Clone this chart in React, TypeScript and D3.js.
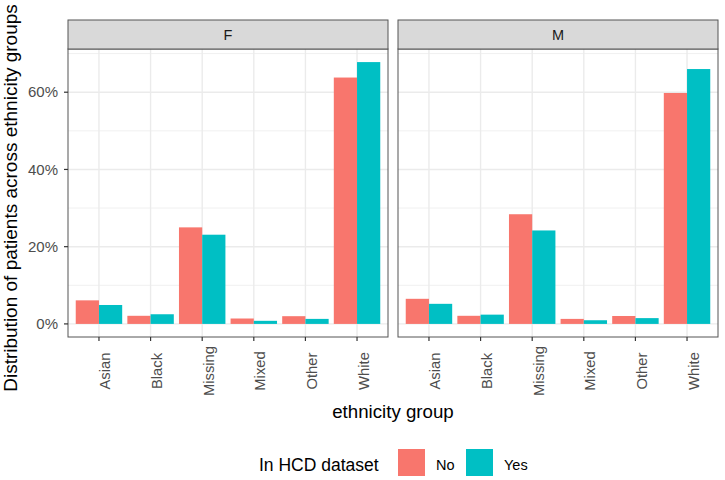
import React from "react";
import * as d3 from "d3";

const categories = ["Asian", "Black", "Missing", "Mixed", "Other", "White"];
const panels = ["F", "M"];
const groups = ["No", "Yes"];
const fNo = [6.1, 2.1, 25.0, 1.4, 2.0, 63.8];
const fYes = [4.9, 2.5, 23.1, 0.8, 1.3, 67.8];
const mNo = [6.5, 2.1, 28.4, 1.3, 2.05, 59.8];
const mYes = [5.2, 2.4, 24.2, 0.95, 1.5, 66.0];
const yTicks = [0, 20, 40, 60];
const yMinor = [10, 30, 50, 70];
const colors = ["#F8766D", "#00BFC4"];

const values: Record<string, number[][]> = { F: [fNo, fYes], M: [mNo, mYes] };

const W = 725, H = 480;
const FONT = "'Liberation Sans', Arial, Helvetica, sans-serif";
const panelTop = 49, panelBottom = 337, stripTop = 20;
const panelX = [68, 398];
const panelW = 320;

export default function App() {
  const maxV = d3.max([...fNo, ...fYes, ...mNo, ...mYes]) as number;
  const y = d3.scaleLinear().domain([-0.05 * maxV, maxV * 1.05]).range([panelBottom, panelTop]);
  // discrete positions like ggplot: expansion 0.6 units each side
  const xPos = d3.scaleLinear().domain([0.4, categories.length + 0.6]).range([0, panelW]);
  const barW = xPos(1.45) - xPos(1);
  return (
    <svg width={W} height={H} style={{ position: "absolute", left: 0, top: 0, background: "#fff" }}>
      <rect width={W} height={H} fill="#fff" />
      {panels.map((p, pi) => {
        const px = panelX[pi];
        return (
          <g key={p} transform={`translate(${px},0)`}>
            <rect x={0} y={panelTop} width={panelW} height={panelBottom - panelTop} fill="#fff" />
            {yMinor.map((t) => (
              <line key={"mn" + t} x1={0} x2={panelW} y1={y(t)} y2={y(t)} stroke="#F0F0F0" strokeWidth={1} />
            ))}
            {yTicks.map((t) => (
              <line key={"mj" + t} x1={0} x2={panelW} y1={y(t)} y2={y(t)} stroke="#EBEBEB" strokeWidth={1.4} />
            ))}
            {categories.map((c, i) => (
              <line key={"v" + c} x1={xPos(i + 1)} x2={xPos(i + 1)} y1={panelTop} y2={panelBottom} stroke="#EBEBEB" strokeWidth={1.4} />
            ))}
            {groups.map((g, gi) =>
              categories.map((c, i) => {
                const v = values[p][gi][i];
                const bx = xPos(i + 1) - barW + gi * barW;
                return (
                  <rect key={g + c} x={bx} y={y(v)} width={barW} height={y(0) - y(v)} fill={colors[gi]} />
                );
              })
            )}
            <rect x={0} y={panelTop} width={panelW} height={panelBottom - panelTop} fill="none" stroke="#555" strokeWidth={1} />
            <rect x={0} y={stripTop} width={panelW} height={panelTop - stripTop} fill="#D9D9D9" stroke="#555" strokeWidth={1} />
            <text x={panelW / 2} y={(stripTop + panelTop) / 2} dy="0.36em" textAnchor="middle" fontFamily={FONT} fontSize={14.5} fill="#1A1A1A">{p}</text>
            {categories.map((c, i) => (
              <g key={"t" + c}>
                <line x1={xPos(i + 1)} x2={xPos(i + 1)} y1={panelBottom} y2={panelBottom + 4} stroke="#333" strokeWidth={1.2} />
                <text transform={`translate(${xPos(i + 1)},371) rotate(-90)`} dy={11.5} textAnchor="middle" fontFamily={FONT} fontSize={14.8} fill="#4D4D4D">{c}</text>
              </g>
            ))}
          </g>
        );
      })}
      {yTicks.map((t) => (
        <g key={"yt" + t}>
          <line x1={panelX[0] - 4} x2={panelX[0]} y1={y(t)} y2={y(t)} stroke="#333" strokeWidth={1.2} />
          <text x={58} y={y(t)} dy="0.35em" textAnchor="end" fontFamily={FONT} fontSize={15} fill="#4D4D4D">{t + "%"}</text>
        </g>
      ))}
      <text transform={`translate(10.5,198) rotate(-90)`} dy="0.35em" textAnchor="middle" fontFamily={FONT} fontSize={19} fill="#000">Distribution of patients across ethnicity groups</text>
      <text x={(panelX[0] + panelX[1] + panelW) / 2} y={418} textAnchor="middle" fontFamily={FONT} fontSize={18.7} fill="#000">ethnicity group</text>
      <g>
        <text x={259} y={470.5} textAnchor="start" fontFamily={FONT} fontSize={17.5} fill="#000">In HCD dataset</text>
        {groups.map((g, gi) => {
          const kx = gi === 0 ? 398 : 466;
          return (
            <g key={"lg" + g}>
              <rect x={kx} y={449} width={27} height={27} fill={colors[gi]} />
              <text x={kx + 38} y={469.5} fontFamily={FONT} fontSize={14.5} fill="#000">{g}</text>
            </g>
          );
        })}
      </g>
    </svg>
  );
}
